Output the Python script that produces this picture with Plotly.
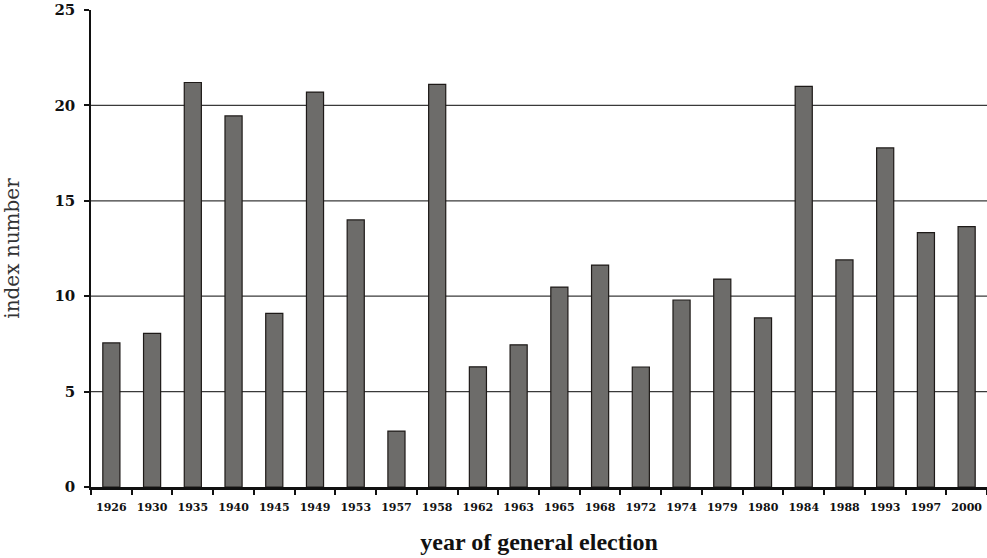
import plotly.graph_objects as go

years = ["1926", "1930", "1935", "1940", "1945", "1949", "1953", "1957", "1958", "1962", "1963",
         "1965", "1968", "1972", "1974", "1979", "1980", "1984", "1988", "1993", "1997", "2000"]
values = [7.55, 8.05, 21.2, 19.45, 9.1, 20.7, 14.0, 2.93, 21.1, 6.3, 7.45,
          10.48, 11.63, 6.29, 9.8, 10.9, 8.86, 21.0, 11.9, 17.77, 13.33, 13.65]
y_ticks = [0, 5, 10, 15, 20, 25]
grid_vals = [5, 10, 15, 20]

fig = go.Figure()
fig.add_trace(go.Bar(
    x=years, y=values, width=0.42,
    marker=dict(color="#6d6c6a", line=dict(color="#1e1a18", width=1.2)),
))

for g in grid_vals:
    fig.add_shape(type="line", xref="paper", yref="y", x0=0, x1=1, y0=g, y1=g,
                  line=dict(color="#3a3a3a", width=1.2), layer="below")

fig.update_layout(
    width=987, height=558,
    margin=dict(l=91, r=0, t=10, b=71),
    paper_bgcolor="white", plot_bgcolor="white",
    showlegend=False,
    font=dict(family="DejaVu Serif, serif", color="#111"),
    xaxis=dict(
        type="category", tickson="boundaries", ticks="outside", ticklen=5, tickwidth=1.5,
        tickcolor="#111", showline=True, linecolor="#111", linewidth=2.5,
        showgrid=False, automargin=False, ticklabelstandoff=8, tickangle=0,
        tickfont=dict(size=11, family="DejaVu Serif, serif", weight="bold"),
        title=dict(text="year of general election", standoff=21,
                   font=dict(size=24, family="Liberation Serif, serif", weight="bold")),
    ),
    yaxis=dict(
        range=[0, 25], tickvals=y_ticks, ticks="outside", ticklen=5, tickwidth=1.5,
        tickcolor="#111", showline=True, linecolor="#111", linewidth=1.5,
        showgrid=False, zeroline=False, automargin=False, ticklabelstandoff=6,
        ticklabeloverflow="allow",
        tickfont=dict(size=15, family="DejaVu Serif, serif", weight="bold"),
        title=dict(text="index number", standoff=32,
                   font=dict(size=20, family="DejaVu Serif, serif", color="#333")),
    ),
)

fig.write_html("out.html", config={"displayModeBar": False},
               post_script="document.body.style.margin='0px';")
